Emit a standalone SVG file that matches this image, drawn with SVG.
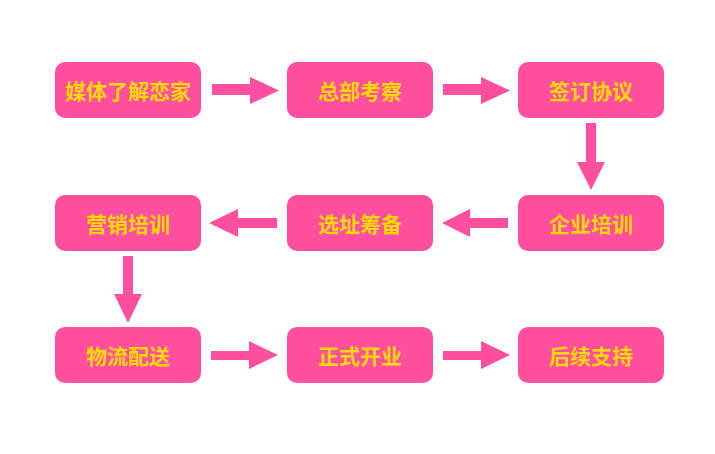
<svg xmlns="http://www.w3.org/2000/svg" width="715" height="454" viewBox="0 0 715 454">
<style>
.box{fill:#FF4F9E;}
.lbl{fill:#FFD800;font-family:"Noto Sans CJK SC","Noto Sans",sans-serif;font-weight:bold;font-size:21px;text-anchor:middle;dominant-baseline:central;}
.arr{fill:#FF4F9E;}
</style>
<rect width="715" height="454" fill="#FFFFFF"/>
<g id="n1"><rect class="box" x="55" y="62" width="146" height="56" rx="10"/><text class="lbl" x="128" y="90">媒体了解恋家</text></g>
<g id="n2"><rect class="box" x="287" y="62" width="146" height="56" rx="10"/><text class="lbl" x="360" y="90">总部考察</text></g>
<g id="n3"><rect class="box" x="518" y="62" width="146" height="56" rx="10"/><text class="lbl" x="591" y="90">签订协议</text></g>
<g id="n4"><rect class="box" x="518" y="195" width="146" height="56" rx="10"/><text class="lbl" x="591" y="223">企业培训</text></g>
<g id="n5"><rect class="box" x="287" y="195" width="146" height="56" rx="10"/><text class="lbl" x="360" y="223">选址筹备</text></g>
<g id="n6"><rect class="box" x="55" y="195" width="146" height="56" rx="10"/><text class="lbl" x="128" y="223">营销培训</text></g>
<g id="n7"><rect class="box" x="55" y="327" width="146" height="56" rx="10"/><text class="lbl" x="128" y="355">物流配送</text></g>
<g id="n8"><rect class="box" x="287" y="327" width="146" height="56" rx="10"/><text class="lbl" x="360" y="355">正式开业</text></g>
<g id="n9"><rect class="box" x="518" y="327" width="146" height="56" rx="10"/><text class="lbl" x="591" y="355">后续支持</text></g>
<g id="connectors">
<polygon class="arr" points="212,84 250,84 250,77 279,90.5 250,104 250,95 212,95"/>
<polygon class="arr" points="443,84 481,84 481,77 510,90.5 481,104 481,95 443,95"/>
<polygon class="arr" points="586,123 596,123 596,162 605,162 591,190 577,162 586,162"/>
<polygon class="arr" points="508,218 470,218 470,209 442,223 470,237 470,228 508,228"/>
<polygon class="arr" points="277,218 238,218 238,209 209,223 238,237 238,228 277,228"/>
<polygon class="arr" points="123,256 133,256 133,294 142,294 128,323 114,294 123,294"/>
<polygon class="arr" points="211,351 249,351 249,341 278,355 249,369 249,360 211,360"/>
<polygon class="arr" points="443,351 481,351 481,341 510,355 481,369 481,360 443,360"/>
</g>
</svg>
